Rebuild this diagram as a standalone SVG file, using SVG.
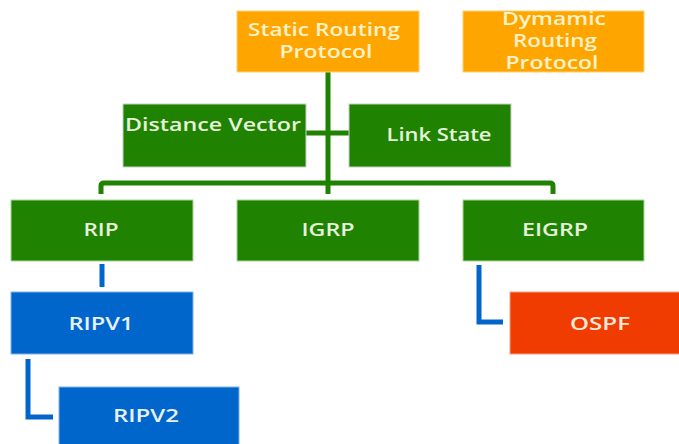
<svg xmlns="http://www.w3.org/2000/svg" width="679" height="444" viewBox="0 0 679 444">
<style>
.or{fill:#FFA500;stroke:#FFD070;stroke-width:1}
.gr{fill:#1F8200;stroke:#A8D898;stroke-width:1}
.bl{fill:#0066CC;stroke:#80B0E8;stroke-width:1}
.rd{fill:#F03C00;stroke:#F8A080;stroke-width:1}
text{font-family:"Open Sans","Liberation Sans",sans-serif;font-size:18px;font-weight:600;text-anchor:middle}
.to{fill:#FFF2C8}
.tg{fill:#E6F2DC}
.tb{fill:#E8F0FA}
.tr{fill:#FFE8D8}
.cg{stroke:#1F8200;stroke-width:5;fill:none;stroke-linejoin:round}
.cb{stroke:#0066CC;stroke-width:5;fill:none}
</style>
<rect width="679" height="444" fill="#FFFFFF"/>
<g id="connectors">
<path class="cg" d="M328,72 V183"/>
<path class="cg" d="M306,133 H349"/>
<path class="cg" d="M101,194 V186 Q101,183 104,183 H550 Q553,183 553,186 V194"/>
<path class="cg" d="M328,183 V194"/>
<path class="cb" d="M102,264 V287"/>
<path class="cb" d="M28,359 V417 H53"/>
<path class="cb" d="M479,265 V322 H503"/>
</g>
<g id="static">
<rect class="or" x="237" y="11" width="182" height="61"/>
<text class="to" x="324" y="36" textLength="152" lengthAdjust="spacingAndGlyphs">Static Routing</text>
<text class="to" x="326" y="58" textLength="93" lengthAdjust="spacingAndGlyphs">Protocol</text>
</g>
<g id="dynamic">
<rect class="or" x="463" y="11" width="181" height="61"/>
<text class="to" x="554" y="25" textLength="104" lengthAdjust="spacingAndGlyphs">Dymamic</text>
<text class="to" x="555" y="47" textLength="84" lengthAdjust="spacingAndGlyphs">Routing</text>
<text class="to" x="552" y="69" textLength="93" lengthAdjust="spacingAndGlyphs">Protocol</text>
</g>
<g id="distance-vector">
<rect class="gr" x="123" y="104" width="183" height="63" style="stroke:#C8D0C8"/>
<text class="tg" x="213" y="131" textLength="176" lengthAdjust="spacingAndGlyphs">Distance Vector</text>
</g>
<g id="link-state">
<rect class="gr" x="349" y="104" width="162" height="63" style="stroke:#C8D0C8"/>
<text class="tg" x="439" y="141" textLength="105" lengthAdjust="spacingAndGlyphs">Link State</text>
</g>
<g id="rip">
<rect class="gr" x="11" y="200" width="182" height="61"/>
<text class="tg" x="101" y="236" textLength="35" lengthAdjust="spacingAndGlyphs">RIP</text>
</g>
<g id="igrp">
<rect class="gr" x="237" y="200" width="182" height="61"/>
<text class="tg" x="328" y="236" textLength="53" lengthAdjust="spacingAndGlyphs">IGRP</text>
</g>
<g id="eigrp">
<rect class="gr" x="463" y="200" width="181" height="61"/>
<text class="tg" x="555" y="236" textLength="66" lengthAdjust="spacingAndGlyphs">EIGRP</text>
</g>
<g id="ripv1">
<rect class="bl" x="11" y="292" width="182" height="62"/>
<text class="tb" x="101" y="330" textLength="65" lengthAdjust="spacingAndGlyphs">RIPV1</text>
</g>
<g id="ripv2">
<rect class="bl" x="59" y="387" width="180" height="60"/>
<text class="tb" x="146" y="422" textLength="66" lengthAdjust="spacingAndGlyphs">RIPV2</text>
</g>
<g id="ospf">
<rect class="rd" x="510" y="292" width="172" height="62"/>
<text class="tr" x="600" y="330" textLength="60" lengthAdjust="spacingAndGlyphs">OSPF</text>
</g>
</svg>
